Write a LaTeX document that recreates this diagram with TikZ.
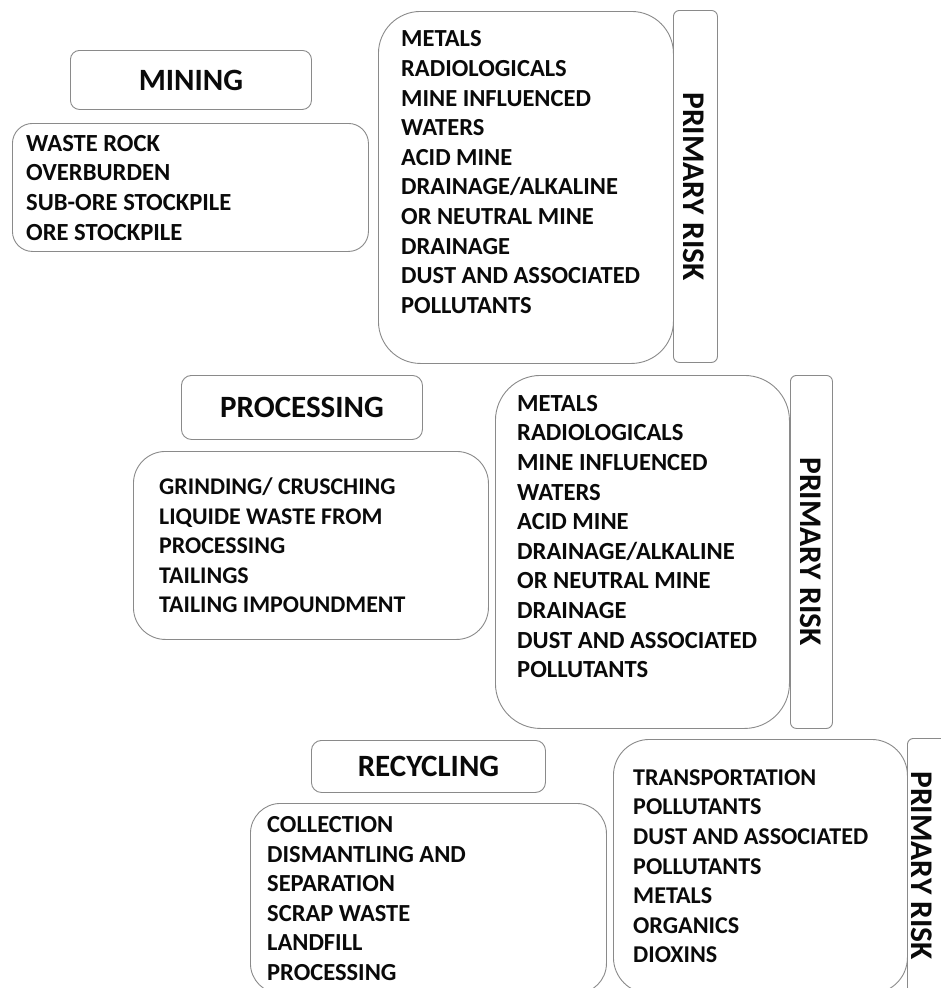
\documentclass[tikz,border=0pt]{standalone}
\usepackage{fontspec}
\setmainfont{Carlito}
\definecolor{linegray}{HTML}{8A8A8A}
\definecolor{inkc}{HTML}{0A0A0A}
\tikzset{
  box/.style={draw=linegray, line width=0.9pt, fill=white, inner sep=0pt, anchor=north west},
  listtext/.style={font=\fontsize{#1}{29.6}\selectfont\bfseries, text=inkc, align=left, inner sep=0pt, anchor=north west},
  listtext/.default=24.5,
  titletext/.style={font=\fontsize{31}{36}\selectfont\bfseries, text=inkc, inner sep=0pt},
  prtext/.style={font=\fontsize{31.5}{36}\selectfont\bfseries, text=inkc, inner sep=0pt, rotate=-90}
}
\newcommand{\fst}{\rule{0pt}{20pt}}
\begin{document}
\begin{tikzpicture}[x=1pt,y=-1pt]
\useasboundingbox (0,0) rectangle (941,988);
\clip (0,0) rectangle (941,988);
\fill[white] (0,0) rectangle (941,988);
% MINING
\node[box, rounded corners=9pt, minimum width=241pt, minimum height=59pt] (mtitle) at (70,50) {};
\node[titletext] (mtitleT) at (mtitle.center) {MINING};
\node[box, rounded corners=20pt, minimum width=356pt, minimum height=128pt] (mlist) at (12,123) {};
\node[listtext=24.6] (mlistT) at (26,131) {\fst WASTE ROCK\\OVERBURDEN\\SUB-ORE STOCKPILE\\ORE STOCKPILE};
\node[box, rounded corners=42pt, minimum width=295pt, minimum height=352pt] (mrisk) at (378,11) {};
\node[listtext=24.5] (mriskT) at (401,26.7) {\fst METALS\\RADIOLOGICALS\\MINE INFLUENCED\\WATERS\\ACID MINE\\DRAINAGE/ALKALINE\\OR NEUTRAL MINE\\DRAINAGE\\DUST AND ASSOCIATED\\POLLUTANTS};
\node[box, rounded corners=6pt, minimum width=44pt, minimum height=352pt] (mpr) at (673,10) {};
\node[prtext] (mprT) at (694,186.5) {PRIMARY RISK};
% PROCESSING
\node[box, rounded corners=10pt, minimum width=241pt, minimum height=64pt] (ptitle) at (181,375) {};
\node[titletext] (ptitleT) at (ptitle.center) {PROCESSING};
\node[box, rounded corners=32pt, minimum width=355pt, minimum height=188pt] (plist) at (133,451) {};
\node[listtext=23.9] (plistT) at (159,474.3) {\fst GRINDING/ CRUSCHING\\LIQUIDE WASTE FROM\\PROCESSING\\TAILINGS\\TAILING IMPOUNDMENT};
\node[box, rounded corners=45pt, minimum width=294pt, minimum height=353pt] (prisk) at (495,375) {};
\node[listtext=24.6] (priskT) at (517,391) {\fst METALS\\RADIOLOGICALS\\MINE INFLUENCED\\WATERS\\ACID MINE\\DRAINAGE/ALKALINE\\OR NEUTRAL MINE\\DRAINAGE\\DUST AND ASSOCIATED\\POLLUTANTS};
\node[box, rounded corners=6pt, minimum width=42pt, minimum height=353pt] (ppr) at (790,375) {};
\node[prtext] (pprT) at (811,551.5) {PRIMARY RISK};
% RECYCLING
\node[box, rounded corners=10pt, minimum width=234pt, minimum height=52pt] (rtitle) at (311,740) {};
\node[titletext] (rtitleT) at (rtitle.center) {RECYCLING};
\node[box, rounded corners=30pt, minimum width=356pt, minimum height=190pt] (rlist) at (250,803) {};
\node[listtext=24.5] (rlistT) at (267,812.3) {\fst COLLECTION\\DISMANTLING AND\\SEPARATION\\SCRAP WASTE\\LANDFILL\\PROCESSING};
\node[box, rounded corners=36pt, minimum width=294pt, minimum height=254pt] (rrisk) at (613,739) {};
\node[listtext=24.1] (rriskT) at (633,765) {\fst TRANSPORTATION\\POLLUTANTS\\DUST AND ASSOCIATED\\POLLUTANTS\\METALS\\ORGANICS\\DIOXINS};
\node[box, rounded corners=6pt, minimum width=45pt, minimum height=255pt] (rpr) at (907,738) {};
\node[prtext] (rprT) at (922,865.5) {PRIMARY RISK};
\end{tikzpicture}
\end{document}
